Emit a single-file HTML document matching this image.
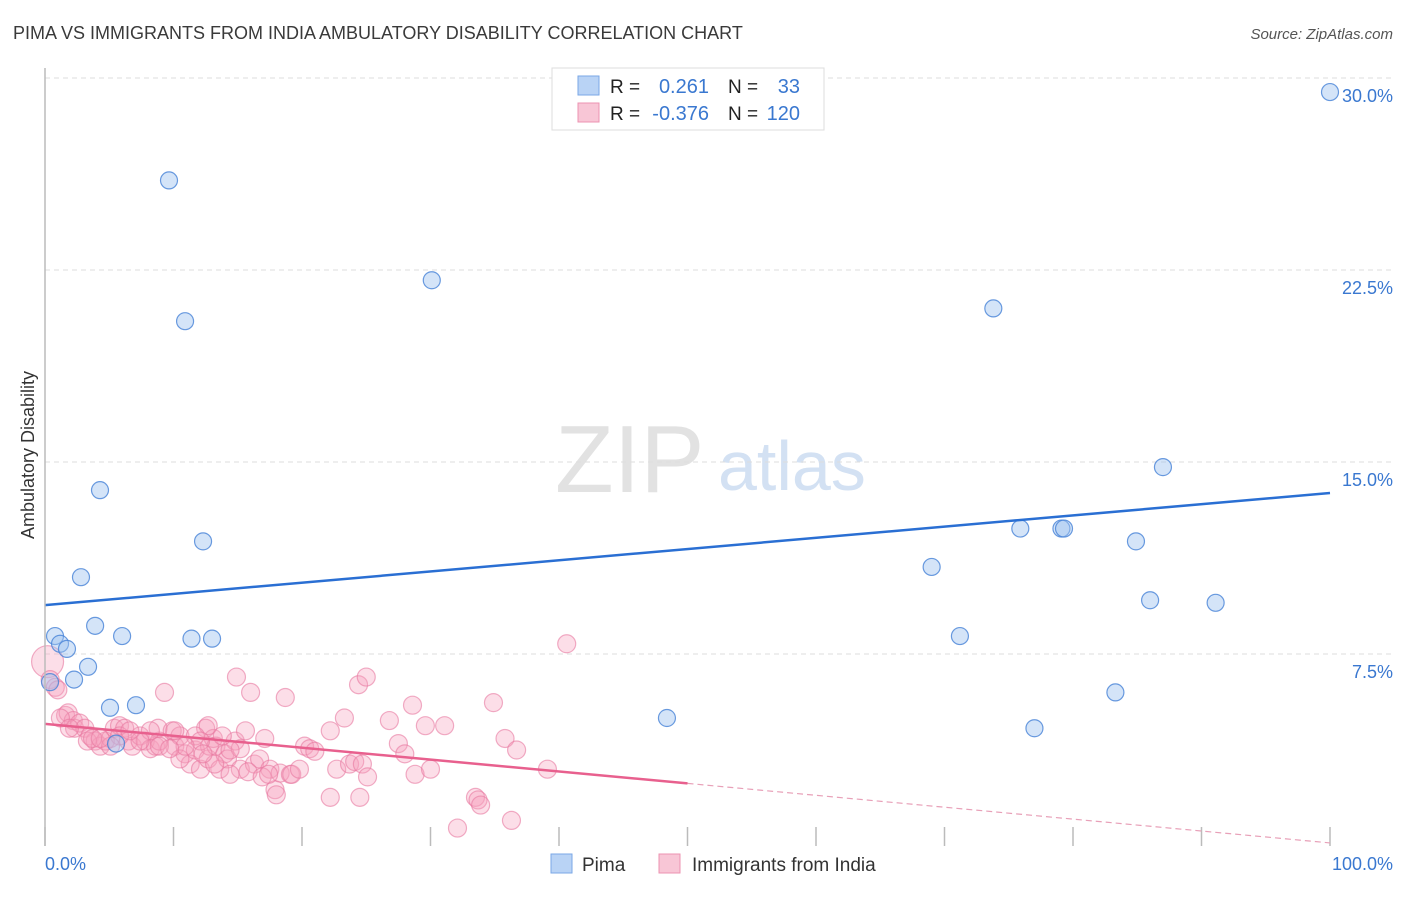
<!DOCTYPE html>
<html><head><meta charset="utf-8"><style>
body{margin:0;background:#fff;font-family:"Liberation Sans",sans-serif}
svg text{font-family:"Liberation Sans",sans-serif}
</style></head><body>
<svg id="chart" width="1406" height="892">
<text x="13" y="39" font-size="18" fill="#3a3a3a">PIMA VS IMMIGRANTS FROM INDIA AMBULATORY DISABILITY CORRELATION CHART</text>
<text x="1393" y="39" font-size="15" fill="#555" font-style="italic" text-anchor="end">Source: ZipAtlas.com</text>
<text x="555" y="492" font-size="96" fill="#e2e2e2" font-family="Liberation Serif,serif">ZIP</text>
<text x="718" y="490" font-size="70" fill="#d3e1f3">atlas</text>
<text transform="translate(34,455) rotate(-90)" font-size="18" fill="#333" text-anchor="middle">Ambulatory Disability</text>
<g id="grid"></g><g id="ticks"></g><g id="pts"></g><g id="lines"></g>
<line x1="45" y1="68" x2="45" y2="846" stroke="#bbb" stroke-width="1.5"/>
<text x="45" y="870" font-size="18" fill="#3a78d0">0.0%</text>
<text x="1393" y="870" font-size="18" fill="#3a78d0" text-anchor="end">100.0%</text>
<g>
<rect x="552" y="68" width="272" height="62" fill="#fff" stroke="#ddd"/>
<rect x="578" y="76" width="21" height="19" fill="#b9d3f5" stroke="#7aa7e6"/>
<rect x="578" y="103" width="21" height="19" fill="#f8c6d6" stroke="#ec93b1"/>
<text x="610" y="93" font-size="19" fill="#222">R = </text><text x="709" y="93" font-size="20" fill="#3a78d0" text-anchor="end">0.261</text>
<text x="728" y="93" font-size="19" fill="#222">N = </text><text x="800" y="93" font-size="20" fill="#3a78d0" text-anchor="end">33</text>
<text x="610" y="120" font-size="19" fill="#222">R = </text><text x="709" y="120" font-size="20" fill="#3a78d0" text-anchor="end">-0.376</text>
<text x="728" y="120" font-size="19" fill="#222">N = </text><text x="800" y="120" font-size="20" fill="#3a78d0" text-anchor="end">120</text>
</g>
<g>
<rect x="551" y="854" width="21" height="19" fill="#b9d3f5" stroke="#7aa7e6"/>
<text x="582" y="871" font-size="19" fill="#333">Pima</text>
<rect x="659" y="854" width="21" height="19" fill="#f8c6d6" stroke="#ec93b1"/>
<text x="692" y="871" font-size="19" fill="#333">Immigrants from India</text>
</g>
</svg>
<script>
const yTicks=[7.5,15,22.5,30];
const yTickLabels=["7.5%","15.0%","22.5%","30.0%"];
const xTicks=[0,10,20,30,40,50,60,70,80,90,100];
const pimaX=[100,9.65,30.1,10.9,73.8,87.0,4.28,12.3,75.9,79.1,79.3,84.9,2.8,69.0,86.0,91.1,3.9,6.0,0.78,11.4,13.0,1.17,1.71,71.2,3.35,2.26,0.39,83.3,5.06,7.08,48.4,77.0,5.53];
const pimaY=[29.45,26.0,22.1,20.5,21.0,14.8,13.9,11.9,12.4,12.4,12.4,11.9,10.5,10.9,9.6,9.5,8.6,8.2,8.2,8.1,8.1,7.9,7.7,8.2,7.0,6.5,6.4,6.0,5.4,5.5,5.0,4.6,4.0];
const indiaX=[0.2,0.4,0.8,1.0,1.6,1.8,2.2,2.3,2.7,3.1,3.5,3.9,4.3,4.7,3.3,3.7,5.1,5.4,5.8,6.2,6.5,6.8,7.4,7.8,8.2,8.6,8.9,8.8,9.3,9.9,10.1,10.5,10.9,11.3,11.7,12.1,12.5,12.7,12.8,13.1,13.3,13.6,14.0,14.2,14.8,14.9,15.2,15.6,16.0,16.3,16.7,17.1,17.5,17.9,18.3,18.7,19.1,19.2,19.8,20.2,20.6,21.0,22.2,22.7,23.3,23.7,24.1,24.4,24.7,25.0,25.1,22.2,24.5,26.8,27.5,28.0,28.6,28.8,29.6,30.0,31.1,32.1,33.5,33.7,33.9,34.9,35.8,36.3,36.7,39.1,40.6,12.7,11.7,10.1,8.2,7.4,5.8,5.1,4.3,6.6,8.9,10.5,13.2,14.4,15.8,16.9,17.4,18.0,12.1,10.9,9.7,15.2,14.4,13.8,12.3,1.2,1.9];
const indiaY=[7.2,6.5,6.2,6.1,5.1,5.2,4.9,4.6,4.8,4.6,4.3,4.1,3.9,4.1,4.1,4.2,4.2,4.6,4.7,4.6,4.1,3.9,4.3,4.1,3.8,3.9,4.1,4.6,6.0,4.5,3.9,4.3,3.6,3.2,3.75,3.0,4.6,3.4,3.9,4.2,3.9,3.0,3.6,3.4,4.1,6.6,3.0,4.5,6.0,3.2,3.4,4.2,3.0,2.2,2.85,5.8,2.8,2.8,3.0,3.9,3.8,3.7,4.5,3.0,5.0,3.2,3.3,6.3,3.2,6.6,2.7,1.9,1.9,4.9,4.0,3.6,5.5,2.8,4.7,3.0,4.7,0.7,1.9,1.8,1.6,5.6,4.2,1.0,3.75,3.0,7.9,4.7,4.3,4.5,4.5,4.1,4.3,3.9,4.2,4.5,3.9,3.4,3.2,2.8,2.9,2.7,2.8,2.0,4.1,3.9,3.8,3.8,3.75,4.3,3.6,5.0,4.6];
const pimaTrend=[9.41,13.79];
const indiaTrend=[4.77,0.12];
const X=v=>45+v*12.85, Y=v=>846-v*25.6;
const NS="http://www.w3.org/2000/svg";
function mk(t,a,p){const e=document.createElementNS(NS,t);for(const k in a)e.setAttribute(k,a[k]);p.appendChild(e);return e;}
const grid=document.getElementById('grid'),ticks=document.getElementById('ticks'),pts=document.getElementById('pts'),lines=document.getElementById('lines');
yTicks.forEach((v,i)=>{
 const l=mk('line',{x1:45,x2:1395,y1:Y(v),y2:Y(v),stroke:'#ddd','stroke-dasharray':'5,4'},grid);
 
 
 const t=mk('text',{x:1393,y:Y(v)+24,'font-size':18,fill:'#3a78d0','text-anchor':'end'},grid);
 t.textContent=yTickLabels[i];
 
 
});
xTicks.forEach(v=>{
 const l=mk('line',{x1:X(v),x2:X(v),y1:827,y2:846,stroke:'#bbb','stroke-width':1.5},ticks);
 
 
});
indiaX.forEach((v,i)=>{
 const c=mk('circle',{cx:X(v),cy:Y(indiaY[i]),r:i===0?16:9,fill:'rgba(245,160,190,0.35)',stroke:'rgba(232,120,160,0.6)','stroke-width':1.2},pts);
 
 
});
pimaX.forEach((v,i)=>{
 const c=mk('circle',{cx:X(v),cy:Y(pimaY[i]),r:8.5,fill:'rgba(160,195,240,0.45)',stroke:'rgba(70,130,215,0.8)','stroke-width':1.2},pts);
 
 
});
const pl=mk('line',{x1:X(0),y1:Y(pimaTrend[0]),x2:X(100),y2:Y(pimaTrend[1]),stroke:'#2a6fd3','stroke-width':2.5},lines);


const f=v=>indiaTrend[0]+(indiaTrend[1]-indiaTrend[0])*v/100;
const il=mk('line',{x1:X(0),y1:Y(f(0)),x2:X(50),y2:Y(f(50)),stroke:'#e8608e','stroke-width':2.5},lines);


const id=mk('line',{x1:X(50),y1:Y(f(50)),x2:X(100),y2:Y(f(100)),stroke:'#e8a0b8','stroke-width':1.2,'stroke-dasharray':'6,4'},lines);


</script>
</body></html>
